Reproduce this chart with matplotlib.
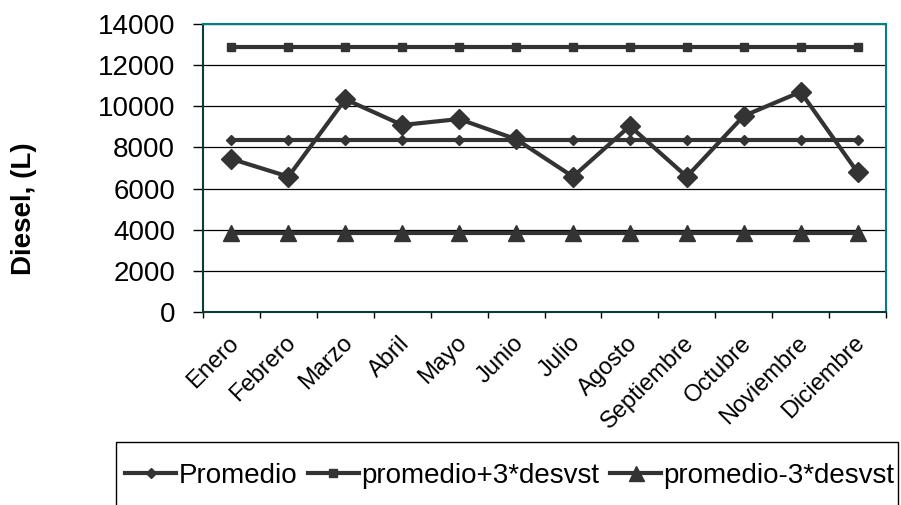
import matplotlib
matplotlib.use("Agg")
import matplotlib.pyplot as plt
from matplotlib.patches import Rectangle
from matplotlib.transforms import ScaledTranslation
import numpy as np

plt.rcParams['font.family'] = ['Liberation Sans', 'DejaVu Sans']

meses = ["Enero", "Febrero", "Marzo", "Abril", "Mayo", "Junio", "Julio",
         "Agosto", "Septiembre", "Octubre", "Noviembre", "Diciembre"]
diesel = [7440, 6580, 10340, 9090, 9380, 8400, 6580, 9040, 6580, 9530, 10700, 6790]
promedio = [8370] * 12
promedio_mas = [12900] * 12
promedio_menos = [3830] * 12
y_ticks = [0, 2000, 4000, 6000, 8000, 10000, 12000, 14000]

fig = plt.figure(figsize=(9.01, 5.05), dpi=100)
ax = fig.add_axes([203/901, 1-312/505, (886-203)/901, (312-24)/505])

x = np.arange(len(meses))
c = '#333333'
ax.plot(x, promedio_mas, color=c, lw=3, marker='s', ms=6, label='promedio+3*desvst', zorder=3)
ax.plot(x, promedio, color=c, lw=3, marker='D', ms=5.5, label='Promedio', zorder=3)
ax.plot(x, promedio_menos, color=c, lw=3, marker='^', ms=12, label='promedio-3*desvst', zorder=3)
ax.plot(x, diesel, color=c, lw=3, marker='D', ms=10, zorder=4)

ax.set_xlim(-0.5, len(meses) - 0.5)
ax.set_ylim(0, 14000)
ax.set_yticks(y_ticks)
ax.set_yticklabels([str(v) for v in y_ticks], fontsize=20)
ax.yaxis.grid(True, color='black', lw=0.9)
ax.set_axisbelow(True)

ax.set_xticks(np.arange(-0.5, len(meses), 1.0))
ax.set_xticklabels([])
ax.set_xticks(x, minor=True)
ax.set_xticklabels(meses, minor=True, rotation=45, ha='right', va='center',
                   rotation_mode='anchor', fontsize=17)
ax.tick_params(axis='x', which='minor', length=0, pad=20)
ax.tick_params(axis='x', which='major', length=4.5, width=1, direction='out', color='black')
ax.tick_params(axis='y', length=7, width=1, direction='out', color='black', pad=13)
shift = ScaledTranslation(4/100, 0, fig.dpi_scale_trans)
for lbl in ax.get_xticklabels(minor=True):
    lbl.set_transform(lbl.get_transform() + shift)

for s in ['top', 'right']:
    ax.spines[s].set_color('#008080')
    ax.spines[s].set_linewidth(1.5)
for s in ['left', 'bottom']:
    ax.spines[s].set_color('#0a3c3c')
    ax.spines[s].set_linewidth(1.5)

fig.text(24/901, 1-209/505, 'Diesel, (L)', rotation=90, fontsize=20, fontweight='bold',
         ha='center', va='center')

# legend frame (extends below figure edge as in the reference)
fig.patches.append(Rectangle((116/901, -0.1), (898-116)/901, (505-442)/505 + 0.1,
                             transform=fig.transFigure, fill=False, edgecolor='black',
                             lw=1))

handles, labels = ax.get_legend_handles_labels()
order = [1, 0, 2]
leg = fig.legend([handles[i] for i in order], [labels[i] for i in order],
                 loc='center left', bbox_to_anchor=(125/901, 1-476/505), ncol=3,
                 fontsize=20, frameon=False, borderpad=0, borderaxespad=0,
                 handlelength=1.85, handletextpad=0.08, columnspacing=0.38,
                 markerscale=0.9)

fig.savefig('out.png', dpi=100)
